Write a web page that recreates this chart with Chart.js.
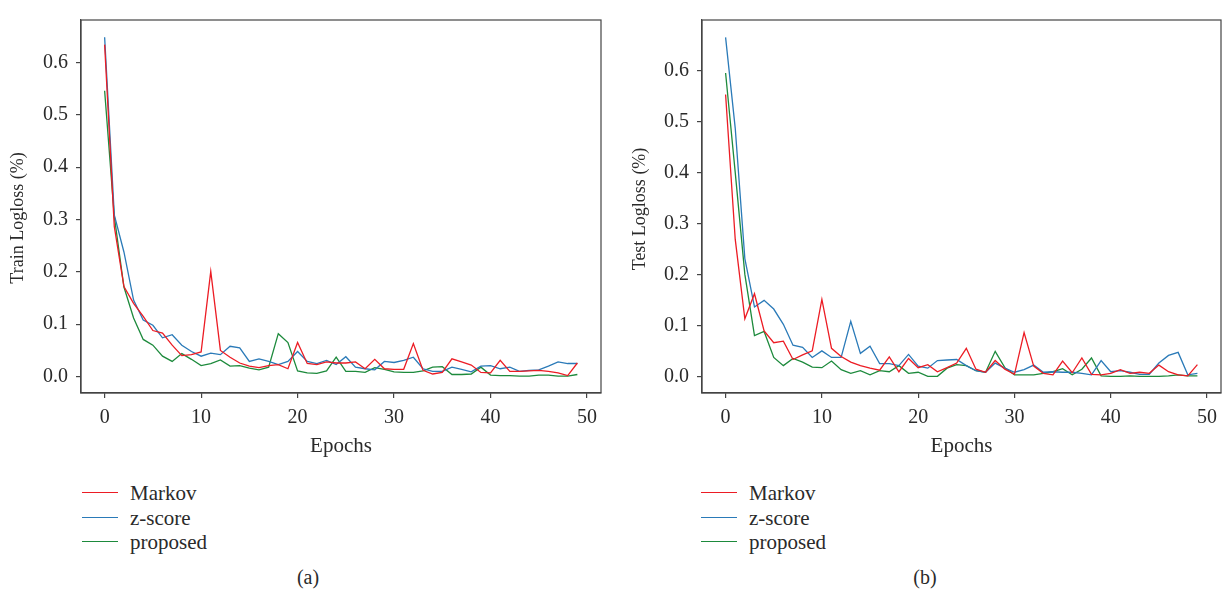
<!DOCTYPE html>
<html>
<head>
<meta charset="utf-8">
<script src="https://cdn.jsdelivr.net/npm/chart.js@4/dist/chart.umd.min.js"></script>
<style>
  body { margin: 0; background: #fff; width: 1226px; height: 599px; overflow: hidden; position: relative;
         font-family: "Liberation Serif", "DejaVu Serif", serif; color: #2a2a2a; }
  canvas { position: absolute; top: 0; }
  .leg { position: absolute; font-size: 21px; line-height: 24px; }
  .leg .row { position: relative; height: 24.5px; }
  .leg .sw { position: absolute; top: 11px; width: 36px; height: 0; border-top: 1.4px solid; }
  .leg .tx { position: absolute; left: 48px; top: 0; white-space: nowrap; }
  .cap { position: absolute; top: 566px; font-size: 20px; width: 60px; text-align: center; }
</style>
</head>
<body>
<canvas id="trainChart" width="613" height="463" style="left:0"></canvas>
<canvas id="testChart" width="613" height="463" style="left:613px"></canvas>
<div class="leg" id="legA" style="left:82px; top:481px"></div>
<div class="leg" id="legB" style="left:701px; top:481px"></div>
<div class="cap" style="left:278px">(a)</div>
<div class="cap" style="left:895px">(b)</div>
<script>
// Epochs and tick labels
const epochs = Array.from({ length: 50 }, (_, i) => i);
const xTicks = [0, 10, 20, 30, 40, 50];
const yTicks = [0.0, 0.1, 0.2, 0.3, 0.4, 0.5, 0.6];
const seriesNames = ['Markov', 'z-score', 'proposed'];
const seriesColors = ['#ec1c24', '#2a7ab8', '#1d8a3c'];

// Train logloss (a)
const markovTrain = [0.634, 0.287, 0.172, 0.140, 0.115, 0.088, 0.083, 0.060, 0.040, 0.042,
  0.047, 0.201, 0.050, 0.037, 0.026, 0.020, 0.017, 0.021, 0.023, 0.015,
  0.065, 0.025, 0.023, 0.028, 0.026, 0.026, 0.028, 0.015, 0.033, 0.015,
  0.014, 0.014, 0.063, 0.012, 0.005, 0.008, 0.034, 0.028, 0.022, 0.008,
  0.007, 0.031, 0.010, 0.010, 0.011, 0.012, 0.010, 0.007, 0.002, 0.026];
const zscoreTrain = [0.648, 0.309, 0.238, 0.146, 0.108, 0.098, 0.074, 0.080, 0.060, 0.048,
  0.039, 0.045, 0.042, 0.058, 0.055, 0.029, 0.034, 0.029, 0.023, 0.029,
  0.048, 0.029, 0.025, 0.031, 0.023, 0.038, 0.018, 0.015, 0.013, 0.029,
  0.027, 0.031, 0.037, 0.015, 0.010, 0.010, 0.018, 0.014, 0.009, 0.020,
  0.021, 0.015, 0.018, 0.010, 0.012, 0.013, 0.020, 0.028, 0.025, 0.025];
const proposedTrain = [0.546, 0.306, 0.171, 0.112, 0.071, 0.060, 0.039, 0.029, 0.044, 0.033,
  0.021, 0.025, 0.032, 0.020, 0.021, 0.016, 0.013, 0.018, 0.082, 0.065,
  0.011, 0.007, 0.006, 0.011, 0.037, 0.010, 0.010, 0.008, 0.017, 0.014,
  0.009, 0.008, 0.008, 0.011, 0.018, 0.019, 0.004, 0.004, 0.005, 0.018,
  0.003, 0.002, 0.002, 0.001, 0.001, 0.003, 0.003, 0.001, 0.001, 0.004];

// Test logloss (b)
const markovTest = [0.553, 0.269, 0.113, 0.162, 0.089, 0.066, 0.069, 0.033, 0.042, 0.050,
  0.151, 0.055, 0.039, 0.028, 0.021, 0.016, 0.012, 0.038, 0.009, 0.035,
  0.017, 0.023, 0.009, 0.017, 0.026, 0.055, 0.014, 0.008, 0.031, 0.014,
  0.004, 0.086, 0.020, 0.006, 0.003, 0.030, 0.007, 0.036, 0.004, 0.003,
  0.006, 0.013, 0.006, 0.008, 0.006, 0.022, 0.009, 0.003, 0.001, 0.023];
const zscoreTest = [0.665, 0.487, 0.231, 0.136, 0.149, 0.132, 0.102, 0.061, 0.057, 0.037,
  0.050, 0.037, 0.037, 0.108, 0.045, 0.059, 0.025, 0.025, 0.021, 0.043,
  0.020, 0.016, 0.031, 0.032, 0.033, 0.021, 0.011, 0.008, 0.026, 0.016,
  0.008, 0.013, 0.022, 0.008, 0.009, 0.008, 0.008, 0.006, 0.003, 0.031,
  0.009, 0.011, 0.008, 0.004, 0.004, 0.026, 0.041, 0.047, 0.003, 0.006];
const proposedTest = [0.595, 0.400, 0.200, 0.080, 0.088, 0.037, 0.021, 0.035, 0.028, 0.018,
  0.017, 0.030, 0.013, 0.006, 0.011, 0.003, 0.011, 0.009, 0.021, 0.006,
  0.008, 0.000, 0.000, 0.016, 0.023, 0.021, 0.011, 0.008, 0.049, 0.017,
  0.003, 0.003, 0.003, 0.006, 0.009, 0.015, 0.003, 0.014, 0.036, 0.001,
  0.000, 0.000, 0.001, 0.000, 0.000, 0.000, 0.001, 0.003, 0.001, 0.001];

const fontFamily = '"Liberation Serif", "DejaVu Serif", serif';
Chart.defaults.font.family = fontFamily;
Chart.defaults.font.size = 20;
Chart.defaults.color = '#2a2a2a';

// draws the box round the plot area
const frame = {
  id: 'frame',
  afterDraw(chart) {
    const { ctx, chartArea: a } = chart;
    ctx.save();
    ctx.strokeStyle = '#444';
    ctx.lineWidth = 1.2;
    ctx.strokeRect(a.left, a.top, a.right - a.left, a.bottom - a.top);
    ctx.restore();
  }
};

// rotated y axis title, placed like in the figure (a bit below the middle)
const yTitle = {
  id: 'yTitle',
  afterDraw(chart, args, opts) {
    const ctx = chart.ctx;
    ctx.save();
    ctx.translate(opts.x, opts.y);
    ctx.rotate(-Math.PI / 2);
    ctx.font = '18px ' + fontFamily;
    ctx.fillStyle = '#2a2a2a';
    ctx.textAlign = 'center';
    ctx.textBaseline = 'middle';
    ctx.fillText(opts.text, 0, 0);
    ctx.restore();
  }
};

function makeChart(id, title, titleX, titleY, series, yMin, yMax, yWidth, padRight) {
  const datasets = series.map((vals, k) => ({
    label: seriesNames[k],
    data: vals.map((v, i) => ({ x: epochs[i], y: v })),
    borderColor: seriesColors[k],
    borderWidth: 1.3,
    pointRadius: 0,
    tension: 0,
    fill: false
  }));
  return new Chart(document.getElementById(id), {
    type: 'line',
    data: { datasets },
    plugins: [frame, yTitle],
    options: {
      responsive: false,
      animation: false,
      devicePixelRatio: 1,
      layout: { padding: { top: 6, right: padRight, left: 0, bottom: 0 } },
      plugins: {
        legend: { display: false },
        tooltip: { enabled: false },
        yTitle: { text: title, x: titleX, y: titleY }
      },
      scales: {
        x: {
          type: 'linear',
          min: -2.45, max: 51.45,
          afterBuildTicks: s => { s.ticks = xTicks.map(v => ({ value: v })); },
          afterFit: s => { s.height = 70; },
          ticks: { padding: 8, maxRotation: 0, callback: v => String(v) },
          grid: { drawOnChartArea: false, tickLength: 5, color: '#444', lineWidth: 1.2 },
          border: { color: '#444', width: 1.2 },
          title: { display: true, text: 'Epochs', font: { size: 21 }, padding: { top: 4, bottom: 4 } }
        },
        y: {
          min: yMin, max: yMax,
          afterBuildTicks: s => { s.ticks = yTicks.map(v => ({ value: v })); },
          afterFit: s => { s.width = yWidth; },
          ticks: { padding: 8, callback: v => v.toFixed(1) },
          grid: { drawOnChartArea: false, tickLength: 5, color: '#444', lineWidth: 1.2 },
          border: { color: '#444', width: 1.2 }
        }
      }
    }
  });
}

makeChart('trainChart', 'Train Logloss (%)', 18, 218, [markovTrain, zscoreTrain, proposedTrain], -0.0313, 0.681, 81, 12);
makeChart('testChart', 'Test Logloss (%)', 27, 209, [markovTest, zscoreTest, proposedTest], -0.0327, 0.699, 89, 5);

// legends below each chart
['legA', 'legB'].forEach(id => {
  const box = document.getElementById(id);
  seriesNames.forEach((name, k) => {
    const row = document.createElement('div');
    row.className = 'row';
    row.innerHTML = `<div class="sw" style="border-color:${seriesColors[k]}"></div><div class="tx">${name}</div>`;
    box.appendChild(row);
  });
});
</script>
</body>
</html>
